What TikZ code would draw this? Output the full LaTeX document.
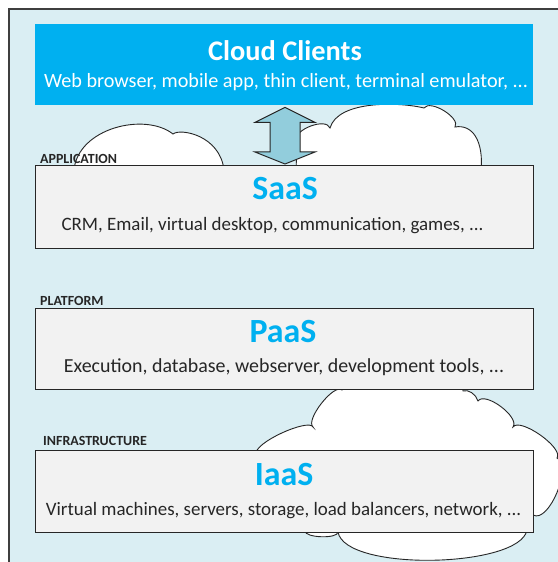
\documentclass[tikz,border=0pt]{standalone}
\usepackage{fontspec}
\setmainfont{Carlito}
\usetikzlibrary{calc}
\definecolor{framefill}{HTML}{DAEEF3}
\definecolor{framedraw}{HTML}{3F3F3F}
\definecolor{ccblue}{HTML}{00B0F0}
\definecolor{layerfill}{HTML}{F2F2F2}
\definecolor{layerdraw}{HTML}{262626}
\definecolor{arrowfill}{HTML}{92CDDC}
\definecolor{textdark}{HTML}{262626}
\tikzset{
  layerbox/.style={draw=layerdraw, line width=1.1bp, fill=layerfill, minimum width=498bp, minimum height=82bp, inner sep=0pt, anchor=north west},
  ccbox/.style={fill=ccblue, draw=none, minimum width=498bp, minimum height=81bp, inner sep=0pt, anchor=north west},
  cloudpath/.style={draw=layerdraw, line width=0.9bp, fill=white},
  layertitle/.style={text=ccblue, font=\fontsize{34}{34}\selectfont\bfseries, anchor=base, inner sep=0pt},
  layersub/.style={text=textdark, anchor=base, inner sep=0pt},
  cctitle/.style={text=white, font=\fontsize{28.5}{28.5}\selectfont\bfseries, anchor=base, inner sep=0pt},
  ccsub/.style={text=white, font=\fontsize{20.3}{20.3}\selectfont, anchor=base, inner sep=0pt},
  layerlabel/.style={text=textdark, font=\fontsize{14}{14}\selectfont\bfseries, anchor=base west, inner sep=0pt},
}
\begin{document}
\begin{tikzpicture}[x=1bp, y=-1bp]
\useasboundingbox (0,0) rectangle (558,562);
\clip (0,0) rectangle (558,562);
% outer frame
\draw[fill=framefill, draw=framedraw, line width=1.5bp] (9,9) rectangle (600,600);
% clouds
\draw[cloudpath] (74,170) .. controls (78,128) and (145,112) .. (173,134)
  .. controls (180,128) and (220,135) .. (224,170) -- cycle;
\draw[cloudpath] (296,172) -- (297,140)
  .. controls (293,130) and (326,117) .. (330,128)
  .. controls (338,100) and (400,102) .. (424,108)
  .. controls (430,99) and (461,118) .. (455,127)
  .. controls (472,124) and (484,140) .. (481,172) -- cycle;
\draw[cloudpath] (256,455) .. controls (252,443) and (309,418) .. (313,427)
  .. controls (305,420) and (334,383) .. (342,390)
  -- (342,380) -- (462,380) -- (463,391)
  .. controls (468,389) and (476,394) .. (478,401)
  .. controls (485,391) and (520,417) .. (513,427)
  .. controls (520,417) and (564,448) .. (557,458)
  .. controls (573,465) and (549,524) .. (533,515)
  -- (527,530)
  .. controls (520,568) and (345,572) .. (338,532)
  .. controls (338,539) and (305,538) .. (305,531) -- cycle;
% cloud clients box
\node[ccbox] (cc) at (35,24) {};
\node[cctitle] (cct) at (285,61) {Cloud Clients};
\node[ccsub] (ccs) at (286,88) {Web browser, mobile app, thin client, terminal emulator, ...};
% layers
\node[layerbox, minimum height=83bp] (saas) at (35,165) {};
\node[layertitle] (saast) at (285,200) {SaaS};
\node[layersub, font=\fontsize{19}{19}\selectfont] (saass) at (272.5,230) {CRM, Email, virtual desktop, communication, games, ...};
\node[layerlabel] (app) at (40,164) {APPLICATION};

\node[layerbox, minimum height=81bp] (paas) at (35,308) {};
\node[layertitle] (paast) at (283,342) {PaaS};
\node[layersub, font=\fontsize{20}{20}\selectfont] (paass) at (284,372) {Execution, database, webserver, development tools, ...};
\node[layerlabel] (plat) at (40,305) {PLATFORM};

\node[layerbox, minimum height=82bp] (iaas) at (35,450) {};
\node[layertitle] (iaast) at (284,485) {IaaS};
\node[layersub, font=\fontsize{19}{19}\selectfont] (iaass) at (283.5,515) {Virtual machines, servers, storage, load balancers, network, ...};
\node[layerlabel] (infra) at (43,445) {INFRASTRUCTURE};
% double arrow between clients and SaaS
\coordinate (atop) at (cc.south -| 285,0);
\coordinate (abot) at (saas.north -| 285,0);
\draw[fill=arrowfill, draw=layerdraw, line width=1bp, line join=miter]
  ($(atop)+(0,2)$) -- ($(atop)+(30,17)$) -- ($(atop)+(15,17)$) -- ($(abot)+(15,-13)$) -- ($(abot)+(30,-13)$)
  -- ($(abot)+(0,-1)$) -- ($(abot)+(-30,-13)$) -- ($(abot)+(-15,-13)$) -- ($(atop)+(-15,17)$) -- ($(atop)+(-30,17)$) -- cycle;
\end{tikzpicture}
\end{document}
